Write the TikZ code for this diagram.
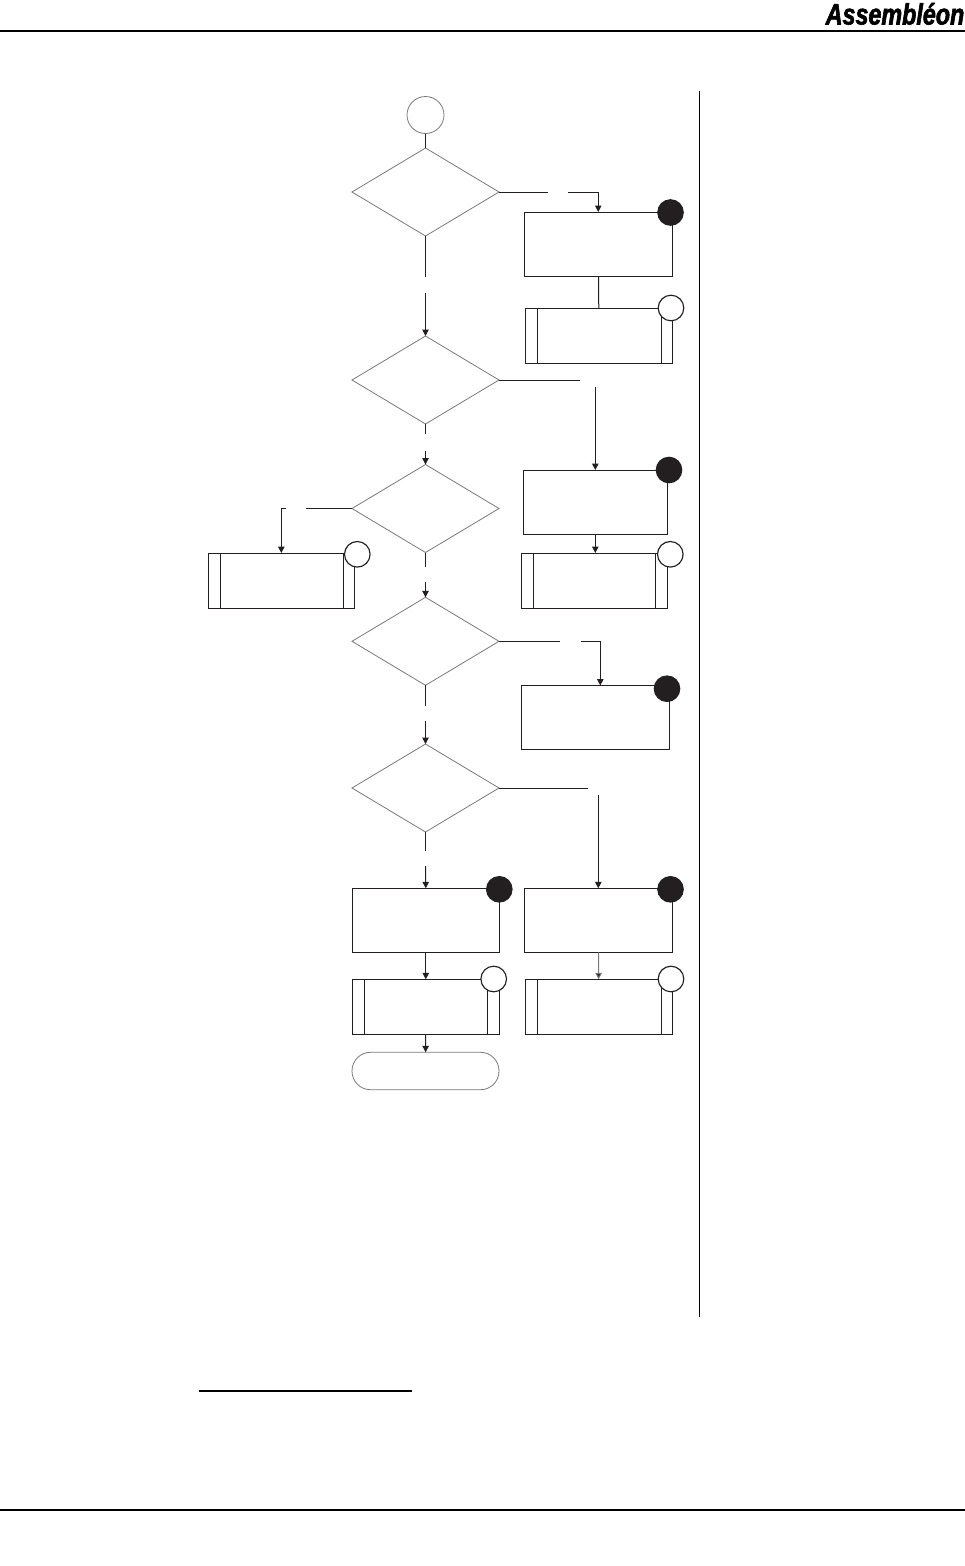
\documentclass[tikz,border=0pt]{standalone}
\usepackage{fontspec}
\setmainfont{Liberation Sans}
\newfontfamily\logofont[FakeStretch=0.79,FakeBold=2]{Liberation Sans}
\usetikzlibrary{arrows.meta,shapes.geometric}
\definecolor{ink}{HTML}{231F20}
\tikzset{
  x=1pt,y=-1pt,
  lw/.style={line width=1pt,draw=ink},
  arr/.style={lw,-{Triangle[length=6.5pt,width=6.5pt,fill=ink]}},
  thinline/.style={line width=0.8pt,draw=ink!60},
  rule/.style={line width=2.2pt,draw=black},
  boxed/.style={rectangle,lw,fill=white,inner sep=0pt,outer sep=0pt},
  decision/.style={diamond,thinline,aspect=1.67,minimum width=147pt,minimum height=88pt,inner sep=0pt,outer sep=0pt},
  dot/.style={circle,draw=ink,line width=1pt,fill=ink,minimum size=25.6pt,inner sep=0pt},
  ring/.style={circle,draw=ink,line width=1.15pt,fill=white,minimum size=25.6pt,inner sep=0pt},
}
\newcommand{\bx}[5]{%
  \node[boxed,minimum width={(#4-#2)*1pt},minimum height={(#5-#3)*1pt}] (#1) at ({(#2+#4)/2},{(#3+#5)/2}) {};}
\newcommand{\pp}[7]{%
  \bx{#1}{#2}{#3}{#4}{#5}
  \draw[lw] (#6,#3) -- (#6,#5) (#7,#3) -- (#7,#5);}
\begin{document}
\begin{tikzpicture}
\useasboundingbox (0,0) rectangle (965,1566);
\fill[white] (0,0) rectangle (965,1566);
% page furniture
\coordinate (hl) at (0,30.7); \coordinate (hr) at (965,30.7);
\draw[rule] (hl) -- (hr);
\coordinate (fl) at (0,1510); \coordinate (fr) at (965,1510);
\draw[rule] (fl) -- (fr);
\coordinate (vt) at (699.5,91); \coordinate (vb) at (699.5,1317);
\draw[line width=1.4pt,draw=black] (vt) -- (vb);
\coordinate (nl) at (199,1391); \coordinate (nr) at (412,1391);
\draw[line width=1.1pt,draw=black] (nl) -- (nr);
\node[anchor=base east,inner sep=0pt,font=\logofont\bfseries\itshape\fontsize{29.5}{29.5}\selectfont] (logo) at (964.5,24.5) {Assembl\'eon};
% decisions
\node[decision] (da) at (425.5,192) {};
\node[decision] (db) at (425.5,380) {};
\node[decision] (dc) at (425.5,508.5) {};
\node[decision] (dd) at (425.5,641.3) {};
\node[decision] (de) at (425.5,788) {};
% start and end
\node[circle,thinline,minimum size=37pt,inner sep=0pt,outer sep=0pt] (start) at (425.5,115) {};
\node[rectangle,thinline,rounded corners=18.5pt,minimum width=147pt,minimum height=37.4pt,inner sep=0pt,outer sep=0pt] (finish) at (425.5,1071) {};
% boxes
\bx{ba}{524.5}{212}{672}{276}
\pp{bb}{525.5}{308}{672.5}{363}{537.3}{661.7}
\bx{bc}{523.3}{470}{667.3}{534}
\pp{bd}{521.7}{553}{667.5}{608}{533.3}{655.7}
\pp{be}{208.3}{553}{354.3}{608}{220.7}{343.7}
\bx{bf}{521.7}{685.5}{669.3}{749.3}
\bx{bg}{352.3}{888.3}{499.3}{952.3}
\bx{bh}{524.3}{888.3}{672.3}{952.3}
\pp{bi}{352.3}{979.3}{499.3}{1034.3}{364.7}{487.7}
\pp{bj}{525.3}{979.3}{672.3}{1034.3}{537.3}{661.7}
% badges
\node[dot]  (ca) at (670.5,212.5) {};
\node[ring] (cb) at (671,308) {};
\node[dot]  (cc) at (669,470) {};
\node[ring] (cd) at (670.3,554.3) {};
\node[ring] (ce) at (357.3,554.3) {};
\node[dot]  (cf) at (667,688.7) {};
\node[dot]  (cg) at (499.3,889.3) {};
\node[dot]  (ch) at (670.5,889.3) {};
\node[ring] (ci) at (493.7,979) {};
\node[ring] (cj) at (671,979) {};
% connector break points
\coordinate (a1) at (548,192);
\coordinate (a2) at (568,192);
\coordinate (a3) at (425.5,277);
\coordinate (a4) at (425.5,293);
\coordinate (b1) at (580,380);
\coordinate (b2) at (595.3,387);
\coordinate (b3) at (425.5,434);
\coordinate (b4) at (425.5,451);
\coordinate (c1) at (306,508.5);
\coordinate (c2) at (286,508.5);
\coordinate (c3) at (425.5,566.7);
\coordinate (c4) at (425.5,582);
\coordinate (d1) at (560,641.3);
\coordinate (d2) at (581,641.3);
\coordinate (d3) at (425.5,706);
\coordinate (d4) at (425.5,721);
\coordinate (d5) at (600.3,641.3);
\coordinate (e1) at (588,788);
\coordinate (e2) at (598.3,795);
\coordinate (e3) at (425.5,851);
\coordinate (e4) at (425.5,866);
% connectors
\draw[lw] (start) -- (da);
\draw[lw] (da.east) -- (a1);
\draw[arr] (a2) -| (ba.north);
\draw[lw] (ba) -- (bb);
\draw[lw] (da.south) -- (a3);
\draw[arr] (a4) -- (db.north);
\draw[lw] (db.east) -- (b1);
\draw[arr] (b2) -- (b2 |- bc.north);
\draw[lw] (db.south) -- (b3);
\draw[arr] (b4) -- (dc.north);
\draw[arr] (b2 |- bc.south) -- (b2 |- bd.north);
\draw[lw] (dc.west) -- (c1);
\draw[arr] (c2) -| (be.north);
\draw[lw] (dc.south) -- (c3);
\draw[arr] (c4) -- (dd.north);
\draw[lw] (dd.east) -- (d1);
\draw[arr] (d2) -- (d5) -- (d5 |- bf.north);
\draw[lw] (dd.south) -- (d3);
\draw[arr] (d4) -- (de.north);
\draw[lw] (de.east) -- (e1);
\draw[arr] (e2) -- (e2 |- bh.north);
\draw[lw] (de.south) -- (e3);
\draw[arr] (e4) -- (bg.north);
\draw[arr] (bg) -- (bi);
\draw[arr,draw=ink!60] (bh) -- (bj);
\draw[arr] (bi) -- (finish);
\end{tikzpicture}
\end{document}
